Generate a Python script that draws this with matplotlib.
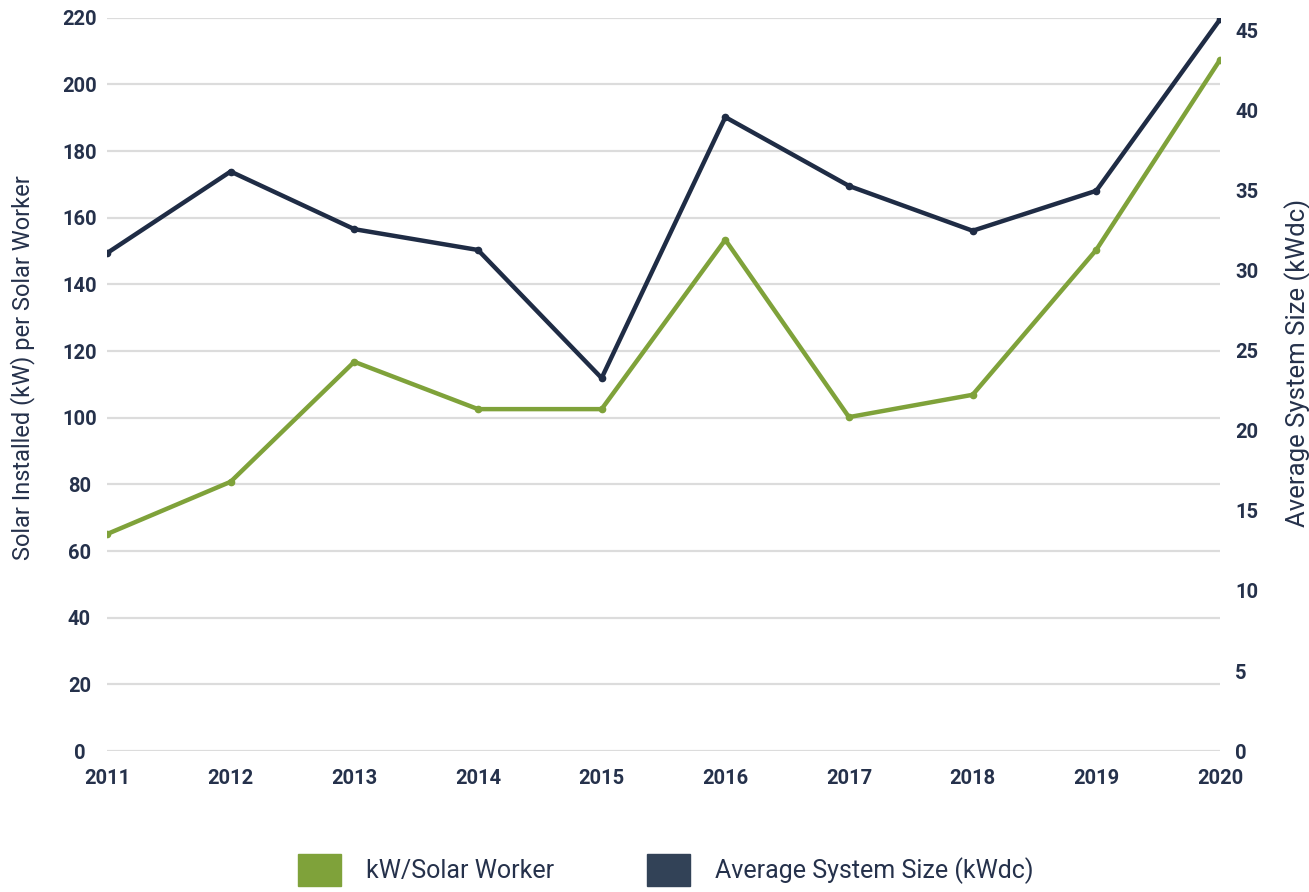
import matplotlib.pyplot as plt
from matplotlib.patches import Patch

years = [2011, 2012, 2013, 2014, 2015, 2016, 2017, 2018, 2019, 2020]
kw_per_worker = [65.1, 80.8, 116.8, 102.6, 102.6, 153.4, 100.2, 106.9, 150.4, 207.4]
avg_system = [31.1, 36.2, 32.6, 31.3, 23.3, 39.6, 35.3, 32.5, 35.0, 45.7]
left_ticks = list(range(0, 221, 20))
right_ticks = list(range(0, 46, 5))

green = '#7fa23a'
navy = '#1f2c45'
txt = '#25314b'

plt.rcParams['font.family'] = ['Roboto', 'DejaVu Sans']

fig = plt.figure(figsize=(13.09, 8.92), dpi=100)
ax1 = fig.add_axes([0.0817, 0.158, 0.8503, 0.822])
ax2 = ax1.twinx()

ax1.plot(years, kw_per_worker, color=green, lw=3.2, marker='o', ms=4.5, zorder=3)
ax2.plot(years, avg_system, color=navy, lw=3.2, marker='o', ms=4.5, zorder=3)

ax1.set_xlim(2011, 2020)
ax1.set_ylim(0, 220)
ax2.set_ylim(0, 45.8)
ax1.set_xticks(years)
ax1.set_yticks(left_ticks)
ax2.set_yticks(right_ticks)

ax1.grid(axis='y', color='#dcdcdc', lw=1.6)
ax1.set_axisbelow(True)
for ax in (ax1, ax2):
    for s in ax.spines.values():
        s.set_visible(False)
    ax.tick_params(length=0, labelsize=14.5, labelcolor=txt)
for lab in ax1.get_xticklabels() + ax1.get_yticklabels() + ax2.get_yticklabels():
    lab.set_fontweight('bold')
for lab in ax1.get_yticklabels():
    lab.set_horizontalalignment('center')
ax1.tick_params(axis='y', pad=19.8)
ax1.tick_params(axis='x', pad=13)
ax2.tick_params(axis='y', pad=11)

ax1.set_ylabel('Solar Installed (kW) per Solar Worker', fontsize=17, color=txt)
ax2.set_ylabel('Average System Size (kWdc)', fontsize=18.5, color=txt, rotation=90)
ax1.yaxis.set_label_coords(-0.0645, 0.5225, transform=ax1.transAxes)
ax2.yaxis.set_label_coords(1.0575, 0.529, transform=ax2.transAxes)

handles = [Patch(color=green, label='kW/Solar Worker'),
           Patch(color='#324257', label='Average System Size (kWdc)')]
fig.legend(handles=handles, loc='center', bbox_to_anchor=(0.5085, 0.0247), ncol=2,
           frameon=False, fontsize=18, handlelength=1.72, handleheight=1.6,
           columnspacing=3.7, handletextpad=1.0, labelcolor=txt,
           borderpad=0, borderaxespad=0)

fig.savefig('out.png', dpi=100)
